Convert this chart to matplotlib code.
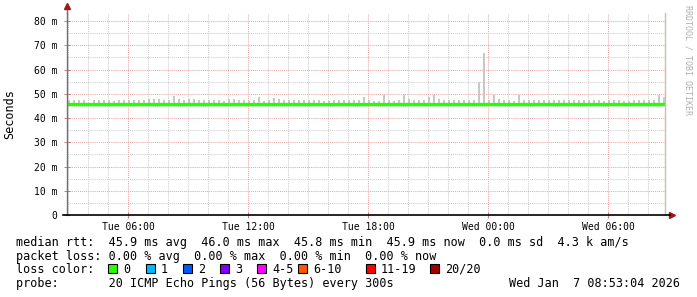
import numpy as np
import matplotlib
matplotlib.use("Agg")
import matplotlib.pyplot as plt
from matplotlib.patches import Rectangle

# smoke tops (ms), one bar every 15 min starting Tue 03:03
smoke_start = 3.05
smoke_step = 0.25
smoke_top = [
    47.5, 47.5, 47.5, 47.5, 45.9, 47.5, 47.5, 47.5, 47.5, 47.0,
    47.5, 47.5, 47.5, 47.5, 47.5, 47.5, 48.0, 48.0, 48.0, 47.5,
    47.5, 49.0, 48.0, 47.5, 48.0, 48.0, 47.5, 47.5, 47.5, 47.5,
    47.3, 47.0, 48.0, 48.0, 47.5, 47.5, 47.0, 47.5, 48.5, 47.0,
    47.5, 48.2, 48.0, 47.5, 47.5, 47.5, 47.5, 47.5, 47.5, 47.5,
    47.5, 47.0, 47.0, 47.5, 47.5, 47.5, 47.5, 47.5, 47.5, 48.5,
    47.5, 47.2, 47.0, 49.3, 47.5, 47.2, 47.5, 50.0, 47.8, 47.5,
    47.5, 47.5, 48.8, 49.5, 48.0, 47.5, 47.5, 47.5, 47.5, 47.5,
    47.5, 47.5, 55.0, 67.0, 47.5, 49.5, 48.0, 47.5, 47.5, 47.0,
    49.5, 47.5, 47.5, 47.5, 47.5, 47.5, 47.5, 47.5, 47.5, 47.5,
    47.5, 47.5, 47.5, 47.5, 47.5, 47.5, 47.5, 47.2, 47.5, 47.5,
    47.5, 47.2, 47.2, 47.5, 47.5, 47.5, 47.5, 47.5, 49.5, 48.5,
]
# median rtt (ms), hours since Tue 00:00
med_t = [2.95, 6.0, 9.0, 12.0, 15.0, 18.0, 21.0, 24.0, 27.0, 30.0, 32.85]
med_v = [45.9, 45.9, 45.9, 45.9, 45.9, 45.9, 45.9, 45.9, 45.9, 45.9, 45.9]

xticks = [6, 12, 18, 24, 30]
xlabels = ["Tue 06:00", "Tue 12:00", "Tue 18:00", "Wed 00:00", "Wed 06:00"]
yticks = [0, 10, 20, 30, 40, 50, 60, 70, 80]
ylabels = ["0", "10 m", "20 m", "30 m", "40 m", "50 m", "60 m", "70 m", "80 m"]

loss_names = ["0", "1", "2", "3", "4-5", "6-10", "11-19", "20/20"]
loss_cols = ["#26ff00", "#00b8ff", "#0059ff", "#7e00ff", "#ff00ff", "#ff5500", "#ff0000", "#a10000"]
loss_x = [108, 146, 183, 220, 257, 298, 366, 430]

W, H = 697, 297
mono = "DejaVu Sans Mono"
fig = plt.figure(figsize=(W / 100, H / 100), dpi=100)
fig.patch.set_facecolor("white")
ax = fig.add_axes([67 / W, (H - 215) / H, 598 / W, 202 / H])
ax.set_xlim(2.95, 32.85)
ax.set_ylim(0, 83.3)

dot = (0, (1, 1))
for h in np.arange(3, 33):
    c = "#e8a8a8" if h % 6 == 0 else "#cfcfcf"
    ax.axvline(h, color=c, lw=0.75, ls=dot, zorder=0)
for v in np.arange(5, 85, 5):
    c = "#e8a8a8" if v % 10 == 0 else "#cfcfcf"
    ax.axhline(v, color=c, lw=0.75, ls=dot, zorder=0)

tops = np.array(smoke_top)
times = smoke_start + smoke_step * np.arange(len(tops))
ax.bar(times, tops - 45.0, bottom=45.0, width=0.13, color="#c8c8c8", zorder=1)
ax.step(med_t, med_v, where="post", color="#26ff00", lw=2.4, zorder=2)

ax.set_xticks(xticks)
ax.set_xticklabels(xlabels, family=mono, fontsize=7)
ax.set_yticks(yticks)
ax.set_yticklabels(ylabels, family=mono, fontsize=7)
ax.tick_params(axis="y", direction="inout", length=4, width=0.7, colors="#c08080", labelcolor="black", pad=5)
ax.tick_params(axis="x", direction="inout", length=4, width=0.7, colors="#c08080", labelcolor="black", pad=3)

ax.spines["top"].set_visible(False)
ax.spines["right"].set_color("#c8c0a8")
ax.spines["right"].set_linewidth(1.0)
ax.spines["left"].set_color("#707070")
ax.spines["left"].set_linewidth(1.0)
ax.spines["bottom"].set_visible(False)
ax.plot([-4 / 598, 1 + 5 / 598], [0, 0], transform=ax.transAxes, color="black", lw=1.2, clip_on=False, zorder=5)
ax.plot([0, 0], [1, 1.03], transform=ax.transAxes, color="#707070", lw=1.0, clip_on=False)
ax.plot([0], [1.035], marker="^", ms=4.5, color="#a01818", transform=ax.transAxes, clip_on=False)
ax.plot([1 + 7 / 598], [0], marker=">", ms=4.5, color="#a01818", transform=ax.transAxes, clip_on=False)

fig.text(10 / W, 1 - 114 / H, "Seconds", rotation=90, family=mono, fontsize=8.5, ha="center", va="center")
fig.text(688 / W, 1 - 5 / H, "RRDTOOL / TOBI OETIKER", rotation=-90, family=mono, fontsize=6,
         color="#b0b0b0", ha="center", va="top")

fs = 8.5
fig.text(16 / W, 1 - 246 / H,
         "median rtt:  45.9 ms avg  46.0 ms max  45.8 ms min  45.9 ms now  0.0 ms sd  4.3 k am/s",
         family=mono, fontsize=fs, va="baseline")
fig.text(16 / W, 1 - 260 / H, "packet loss: 0.00 % avg  0.00 % max  0.00 % min  0.00 % now",
         family=mono, fontsize=fs, va="baseline")
fig.text(16 / W, 1 - 273 / H, "loss color:", family=mono, fontsize=fs, va="baseline")
for name, col, x in zip(loss_names, loss_cols, loss_x):
    fig.add_artist(Rectangle((x / W, 1 - 273 / H), 9 / W, 9 / H, transform=fig.transFigure,
                             facecolor=col, edgecolor="black", lw=0.8))
    fig.text((x + 15) / W, 1 - 273 / H, name, family=mono, fontsize=fs, va="baseline")
fig.text(16 / W, 1 - 287 / H, "probe:       20 ICMP Echo Pings (56 Bytes) every 300s",
         family=mono, fontsize=fs, va="baseline")
fig.text(680 / W, 1 - 287 / H, "Wed Jan  7 08:53:04 2026", family=mono, fontsize=fs,
         va="baseline", ha="right")

fig.savefig("out.png", dpi=100, facecolor="white")
